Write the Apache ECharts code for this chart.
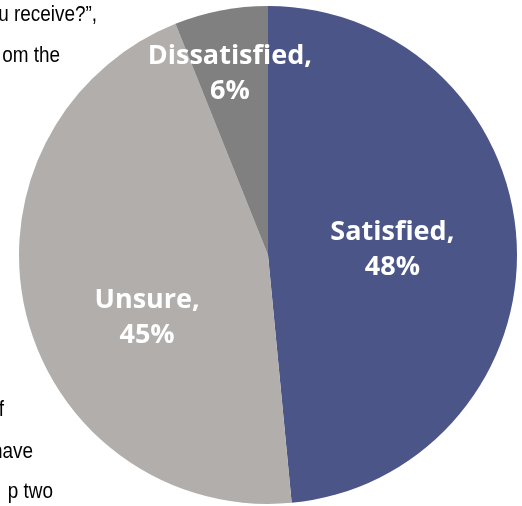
<!DOCTYPE html>
<html><head><meta charset="utf-8">
<script src="https://cdn.jsdelivr.net/npm/echarts@6/dist/echarts.min.js"></script>
<style>html,body{margin:0;padding:0;background:#fff}#c{width:522px;height:506px}</style>
</head><body><div id="c"></div>
<script>
var categories = ["Satisfied", "Unsure", "Dissatisfied"];
var values = [48, 45, 6];
var colors = ["#4b5587", "#b1aeac", "#808080"];
var labelOffsets = [[-3, 1], [3, 33], [-14, -56]];
var sideTexts = ["u receive?\u201d,", "om the", "f", "have", "p two"];

var chart = echarts.init(document.getElementById('c'));
var data = categories.map(function (c, i) {
  return { name: c, value: values[i], itemStyle: { color: colors[i] },
    label: { offset: labelOffsets[i] } };
});
var textPos = [[97, 15], [60, 56], [4, 410], [33, 452], [53, 492]];
var graphics = sideTexts.map(function (t, i) {
  return { type: 'text', x: textPos[i][0], y: textPos[i][1], scaleX: 0.86,
    style: { text: t, fill: '#000', font: '22px "Liberation Sans", sans-serif',
      textAlign: 'right', textVerticalAlign: 'middle' } };
});
chart.setOption({
  animation: false,
  graphic: graphics,
  series: [{
    type: 'pie', center: [268, 255], radius: [0, 249], startAngle: 90, clockwise: true,
    avoidLabelOverlap: false,
    label: { show: true, position: 'inside', color: '#fff', fontFamily: '"Open Sans", sans-serif',
      fontWeight: 'bold', fontSize: 27, lineHeight: 35,
      formatter: function (p) { return p.name + ',\n' + p.value + '%'; } },
    labelLine: { show: false },
    emphasis: { disabled: true },
    itemStyle: { borderWidth: 0 },
    data: data
  }]
});
</script></body></html>
